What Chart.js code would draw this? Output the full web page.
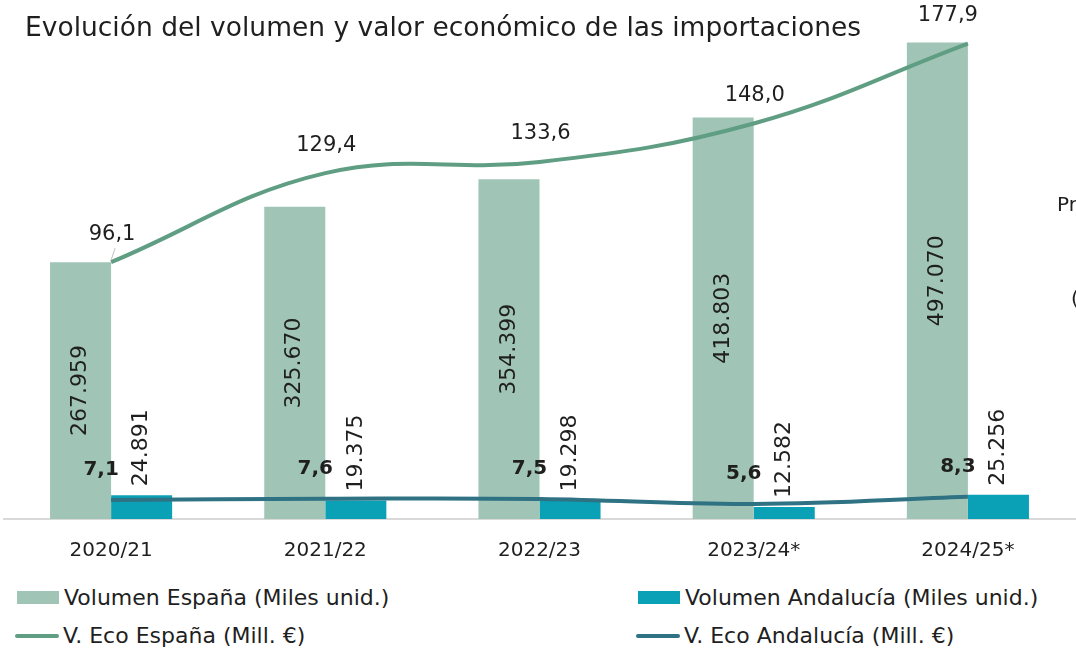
<!DOCTYPE html>
<html>
<head>
<meta charset="utf-8">
<script src="https://cdn.jsdelivr.net/npm/chart.js@4.4.1/dist/chart.umd.min.js"></script>
<style>
  body { margin: 0; width: 1076px; height: 656px; overflow: hidden; background: #fff;
         font-family: "DejaVu Sans", sans-serif; color: #1f1f1f; position: relative; }
  #wrap { position: absolute; left: 0; top: 0; width: 1076px; height: 583px; }
  #title { position: absolute; left: 25px; top: 11px; font-size: 26.5px; white-space: nowrap; }
  .frag { position: absolute; font-size: 20px; }
  .leg { position: absolute; font-size: 22px; white-space: nowrap; display: flex; align-items: center; }
  .box { display: inline-block; width: 42px; height: 13px; margin-right: 5px; }
  .ln { display: inline-block; width: 44px; height: 4px; border-radius: 2px; margin-right: 4px; }
</style>
</head>
<body>
<div id="wrap"><canvas id="myChart"></canvas></div>
<div id="title">Evolución del volumen y valor económico de las importaciones</div>
<div class="frag" style="left:1057px;top:192px">Pr</div>
<div class="frag" style="left:1071px;top:286px">(</div>

<div class="leg" style="left:17px;top:585px"><span class="box" style="background:#a0c5b6"></span>Volumen España (Miles unid.)</div>
<div class="leg" style="left:638px;top:585px"><span class="box" style="background:#0aa0b5"></span>Volumen Andalucía (Miles unid.)</div>
<div class="leg" style="left:15px;top:623px"><span class="ln" style="background:#5f9e82"></span>V. Eco España (Mill. €)</div>
<div class="leg" style="left:636px;top:623px"><span class="ln" style="background:#2f7284"></span>V. Eco Andalucía (Mill. €)</div>

<script>
const labels = ["2020/21", "2021/22", "2022/23", "2023/24*", "2024/25*"];
const volEspana = [267959, 325670, 354399, 418803, 497070];
const volAndalucia = [24891, 19375, 19298, 12582, 25256];
const ecoEspana = [96.1, 129.4, 133.6, 148.0, 177.9];
const ecoAndalucia = [7.1, 7.6, 7.5, 5.6, 8.3];

// 267959 -> "267.959", 96.1 -> "96,1"
function miles(v) {
  return String(v).replace(/\B(?=(\d{3})+(?!\d))/g, ".");
}
function dec(v) {
  return v.toFixed(1).replace(".", ",");
}

const valueLabels = {
  id: "valueLabels",
  afterDatasetsDraw(chart) {
    const ctx = chart.ctx;
    ctx.save();
    ctx.fillStyle = "#1f1f1f";

    // volumen españa: rotated, centered in the bar
    chart.getDatasetMeta(2).data.forEach((bar, i) => {
      ctx.save();
      ctx.translate(bar.x, (bar.y + bar.base) / 2);
      ctx.rotate(-Math.PI / 2);
      ctx.font = "22px 'DejaVu Sans'";
      ctx.textAlign = "center";
      ctx.textBaseline = "middle";
      ctx.fillText(miles(volEspana[i]), 0, 0);
      ctx.restore();
    });

    // volumen andalucía: rotated, above the bar
    chart.getDatasetMeta(3).data.forEach((bar, i) => {
      ctx.save();
      ctx.translate(bar.x, bar.y - 9);
      ctx.rotate(-Math.PI / 2);
      ctx.font = "22px 'DejaVu Sans'";
      ctx.textAlign = "left";
      ctx.textBaseline = "middle";
      ctx.fillText(miles(volAndalucia[i]), 0, 0);
      ctx.restore();
    });

    // v. eco españa
    ctx.font = "21px 'DejaVu Sans'";
    ctx.textAlign = "center";
    ctx.textBaseline = "middle";
    chart.getDatasetMeta(0).data.forEach((pt, i) => {
      const dx = i === ecoEspana.length - 1 ? -20 : 1;
      ctx.fillText(dec(ecoEspana[i]), pt.x + dx, pt.y - 28);
    });
    // small leader for the first one
    const p0 = chart.getDatasetMeta(0).data[0];
    ctx.strokeStyle = "#bfbfbf";
    ctx.lineWidth = 1;
    ctx.beginPath();
    ctx.moveTo(p0.x + 4, p0.y - 14);
    ctx.lineTo(p0.x, p0.y - 2);
    ctx.stroke();

    // v. eco andalucía, bold
    ctx.font = "bold 20px 'DejaVu Sans'";
    chart.getDatasetMeta(1).data.forEach((pt, i) => {
      ctx.fillText(dec(ecoAndalucia[i]), pt.x - 10, pt.y - 30);
    });
    ctx.restore();
  }
};

const config = {
  type: "bar",
  data: {
    labels: labels,
    datasets: [
      {
        type: "line",
        label: "V. Eco España (Mill. €)",
        data: ecoEspana,
        yAxisID: "y2",
        borderColor: "#5f9e82",
        borderWidth: 4,
        tension: 0.4,
        pointRadius: 0,
        order: 1,
      },
      {
        type: "line",
        label: "V. Eco Andalucía (Mill. €)",
        data: ecoAndalucia,
        yAxisID: "y2",
        borderColor: "#2f7284",
        borderWidth: 4,
        tension: 0.4,
        pointRadius: 0,
        order: 1,
      },
      {
        label: "Volumen España (Miles unid.)",
        data: volEspana,
        yAxisID: "y",
        backgroundColor: "#a0c5b6",
        categoryPercentage: 0.57,
        barPercentage: 1,
        order: 2,
      },
      {
        label: "Volumen Andalucía (Miles unid.)",
        data: volAndalucia,
        yAxisID: "y",
        backgroundColor: "#0aa0b5",
        categoryPercentage: 0.57,
        barPercentage: 1,
        order: 2,
      },
    ],
  },
  options: {
    responsive: true,
    maintainAspectRatio: false,
    animation: false,
    layout: { padding: { left: 4, right: 1, top: 12, bottom: 0 } },
    plugins: {
      legend: { display: false },
      tooltip: { enabled: false },
    },
    scales: {
      x: {
        grid: { display: false, drawTicks: false },
        border: { display: true, color: "#d9d9d9", width: 2 },
        ticks: { color: "#1f1f1f", font: { family: "DejaVu Sans", size: 20 }, padding: 20 },
      },
      y: { display: false, min: 0, max: 529000 },
      y2: { display: false, min: 0, max: 189.7 },
    },
  },
  plugins: [valueLabels],
};

const myChart = new Chart(document.getElementById("myChart"), config);
</script>
</body>
</html>
